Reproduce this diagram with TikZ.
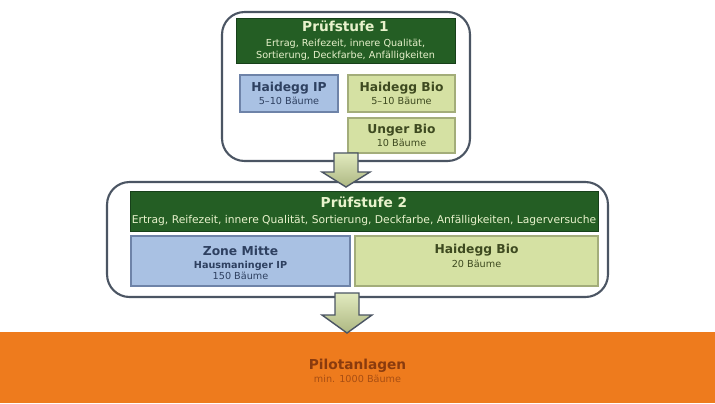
\documentclass[tikz,border=0pt]{standalone}
\usepackage{fontspec}
\setmainfont{DejaVu Sans}
\definecolor{headgreen}{HTML}{245E24}
\definecolor{headline}{HTML}{17401A}
\definecolor{paleblue}{HTML}{A9C1E3}
\definecolor{blueline}{HTML}{6E83A8}
\definecolor{palegreen}{HTML}{D5E1A3}
\definecolor{greenline}{HTML}{A3AD7A}
\definecolor{pilotorange}{HTML}{EE7B1D}
\definecolor{pilottext}{HTML}{8A3B0E}
\definecolor{headtext}{HTML}{E8F2CC}
\definecolor{bluetext}{HTML}{2E4060}
\definecolor{greentext}{HTML}{3E4A20}
\definecolor{frameline}{HTML}{4B5563}
\newcommand{\titlefont}{\fontsize{7}{7.5}\selectfont\bfseries}
\newcommand{\bigtitlefont}{\fontsize{7.8}{8.5}\selectfont\bfseries}
\newcommand{\smallfont}{\fontsize{5.5}{6.6}\selectfont}
\tikzset{
	stageframe/.style={draw=frameline, line width=1.2pt, fill=white, rounded corners=0.45cm},
	stagehead/.style={draw=headline, fill=headgreen, text=headtext, align=center, inner sep=0pt, font=\smallfont},
	ipbox/.style={draw=blueline, line width=0.8pt, fill=paleblue, text=bluetext, align=center, inner sep=0pt, font=\smallfont},
	biobox/.style={draw=greenline, line width=0.8pt, fill=palegreen, text=greentext, align=center, inner sep=0pt, font=\smallfont},
	boxtext/.style={align=center, inner sep=0pt, font=\smallfont},
	blockarrow/.style={draw=frameline, line width=0.8pt, top color=palegreen!70!white, bottom color=greenline!80!palegreen, line join=miter},
}
\begin{document}
\begin{tikzpicture}[x=0.02cm, y=-0.02cm]
	\useasboundingbox (0,0) rectangle (715,403);
	\fill[pilotorange] (0,332) rectangle (715,403);
	\node[boxtext, text=pilottext] (pilot) at (357.5,371) {{\bigtitlefont Pilotanlagen}\\[0.5pt]{\color{pilottext!70!pilotorange} min. 1000 Bäume}};
	\node[stageframe, minimum width=4.96cm, minimum height=2.98cm] (stage1) at (346,86.5) {};
	\node[stagehead, minimum width=4.38cm, minimum height=0.9cm] (head1) at (345.5,41) {{\bigtitlefont Prüfstufe 1}\\[1.5pt]Ertrag, Reifezeit, innere Qualität,\\[0.5pt]Sortierung, Deckfarbe, Anfälligkeiten};
	\node[ipbox, minimum width=1.96cm, minimum height=0.74cm] (haideggip) at (289,93.5) {{\titlefont Haidegg IP}\\[1pt]5--10 Bäume};
	\node[biobox, minimum width=2.14cm, minimum height=0.74cm] (haideggbio) at (401.5,93.5) {{\titlefont Haidegg Bio}\\[1pt]5--10 Bäume};
	\node[biobox, minimum width=2.14cm, minimum height=0.70cm] (ungerbio) at (401.5,135.5) {{\titlefont Unger Bio}\\[1pt]10 Bäume};
	\node[stageframe, minimum width=10.02cm, minimum height=2.30cm] (stage2) at (357.5,239.5) {};
	\node[stagehead, minimum width=9.36cm, minimum height=0.8cm] (head2) at (364,211) {{\bigtitlefont Prüfstufe 2}\\[2.5pt]{\fontsize{6.1}{7}\selectfont Ertrag, Reifezeit, innere Qualität, Sortierung, Deckfarbe, Anfälligkeiten, Lagerversuche}};
	\node[ipbox, minimum width=4.38cm, minimum height=1.0cm] (zonemitte) at (240.5,261) {};
	\node[boxtext, text=bluetext] (zonetext) at (240.5,263) {{\titlefont Zone Mitte}\\[0.5pt]{\bfseries Hausmaninger IP}\\150 Bäume};
	\node[biobox, minimum width=4.86cm, minimum height=1.0cm] (haideggbio2) at (476.5,261) {};
	\node[boxtext, text=greentext] (biotext) at (476.5,256) {{\titlefont Haidegg Bio}\\[1pt]20 Bäume};
	\draw[blockarrow, shift={(346,153)}] (-12,0) -- (-12,19) -- (-24,19) -- (0,34) -- (24,19) -- (12,19) -- (12,0) -- cycle;
	\draw[blockarrow, shift={(347,293)}] (-12,0) -- (-12,22) -- (-25,22) -- (0,40) -- (25,22) -- (12,22) -- (12,0) -- cycle;
\end{tikzpicture}
\end{document}
